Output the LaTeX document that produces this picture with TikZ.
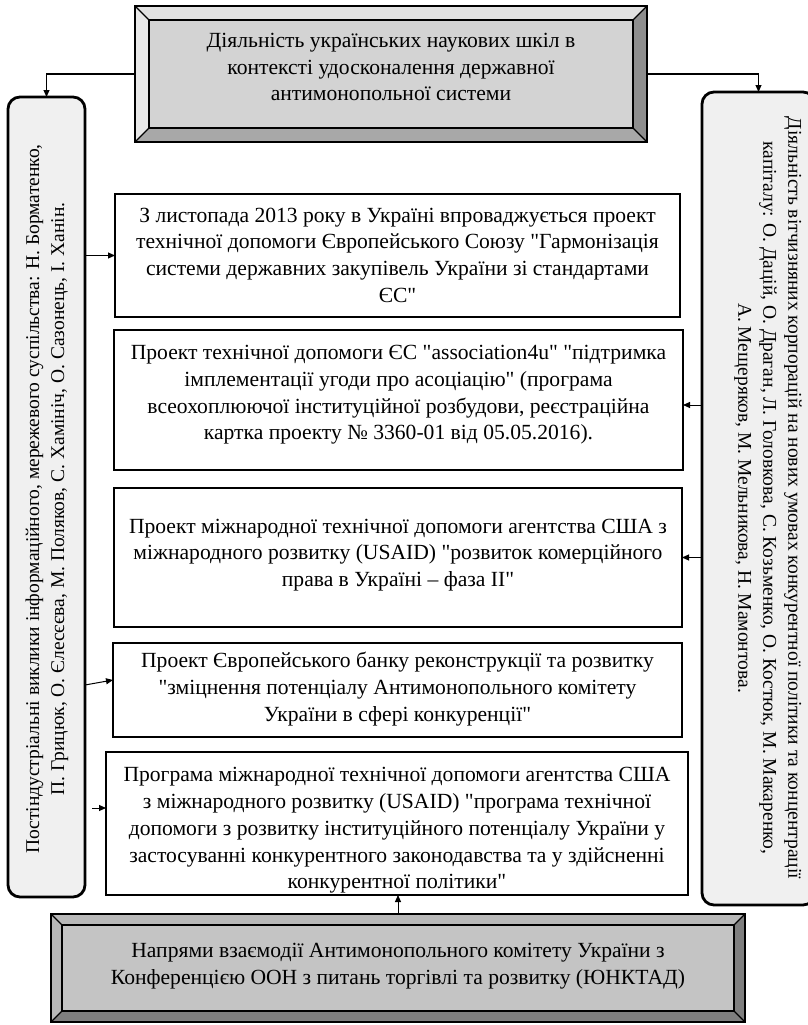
\documentclass[tikz,border=0pt]{standalone}
\usepackage{fontspec}
\setmainfont{Liberation Serif}[Ligatures=TeXOff]
\usetikzlibrary{calc,arrows.meta}
\newcommand{\dq}{\symbol{34}}
\newcommand{\bevelframe}[7]{%
  \path (#1.north west) coordinate (#1-A) (#1.north east) coordinate (#1-B)
        (#1.south east) coordinate (#1-C) (#1.south west) coordinate (#1-D);
  \path ($(#1-A)+(#2,#2)$) coordinate (#1-a) ($(#1-B)+(-#2,#2)$) coordinate (#1-b)
        ($(#1-C)+(-#2,-#2)$) coordinate (#1-c) ($(#1-D)+(#2,-#2)$) coordinate (#1-d);
  \fill[#3] (#1-A)--(#1-B)--(#1-b)--(#1-a)--cycle;
  \fill[#4] (#1-A)--(#1-a)--(#1-d)--(#1-D)--cycle;
  \fill[#5] (#1-B)--(#1-C)--(#1-c)--(#1-b)--cycle;
  \fill[#6] (#1-D)--(#1-C)--(#1-c)--(#1-d)--cycle;
  \fill[#7] (#1-a) rectangle (#1-c);
  \draw[line width=1.3pt] (#1-A)--(#1-a) (#1-B)--(#1-b) (#1-C)--(#1-c) (#1-D)--(#1-d);
  \draw[line width=2.8pt, line join=miter] (#1-A) rectangle (#1-C) (#1-a) rectangle (#1-c);
}
\definecolor{sidegray}{HTML}{F0F0F0}
\definecolor{tlight}{HTML}{E2E2E2}
\definecolor{tleft}{HTML}{E8E8E8}
\definecolor{tdark}{HTML}{8E8E8E}
\definecolor{tbottom}{HTML}{A8A8A8}
\definecolor{tface}{HTML}{D3D3D3}
\definecolor{blight}{HTML}{B8B8B8}
\definecolor{bdark}{HTML}{7F7F7F}
\definecolor{bface}{HTML}{C4C4C4}
\begin{document}
\begin{tikzpicture}[x=1pt,y=-1pt,
  placeholder/.style={inner sep=0pt, outer sep=0pt},
  midbox/.style={draw=black, line width=2.8pt, fill=white, inner sep=0pt, outer sep=0pt},
  sidebox/.style={draw=black, line width=2.8pt, fill=sidegray, rounded corners=12pt, inner sep=0pt, outer sep=0pt},
  boxtext/.style={inner sep=0pt, align=center, font=\fontsize{21.6}{26.7}\selectfont},
  sidetext/.style={inner sep=0pt, align=center, font=\fontsize{19.5}{25}\selectfont},
  conn/.style={line width=1pt, -{Triangle[length=7pt,width=6pt]}},
]
\useasboundingbox (0,0) rectangle (807,1025);

% side boxes
\node[sidebox, minimum width=77pt, minimum height=800pt] (L) at (46.5,497) {};
\node[sidebox, minimum width=113pt, minimum height=813pt] (R) at (758.5,498.5) {};
\node[sidetext, rotate=90] (Ltext) at (47,499)
  {Постіндустріальні виклики інформаційного, мережевого суспільства: Н. Борматенко,\\
   П. Грицюк, О. Єлесєєва, М. Поляков, С. Хамініч, О. Сазонець, І. Ханін.};
\node[sidetext, rotate=-90] (Rtext) at (768,498)
  {Діяльність вітчизняних корпорацій на нових умовах конкурентної політики та концентрації\\
   капіталу: О. Дацій, О. Драган, Л. Головкова, С. Козьменко, О. Костюк, М. Макаренко,\\
   А. Мещеряков, М. Мельникова, Н. Мамонтова.};

% top and bottom bevelled boxes
\node[placeholder, minimum width=512pt, minimum height=136pt] (T) at (391,74) {};
\bevelframe{T}{14}{tlight}{tleft}{tdark}{tbottom}{tface}
\node[boxtext] (Ttext) at (391,67)
  {Діяльність українських наукових шкіл в\\контексті удосконалення державної\\антимонопольної системи};

\node[placeholder, minimum width=694pt, minimum height=108pt] (B) at (398,968) {};
\bevelframe{B}{11}{blight}{blight}{bdark}{bdark}{bface}
\node[boxtext] (Btext) at (398,966)
  {Напрями взаємодії Антимонопольного комітету України з\\Конференцією ООН з питань торгівлі та розвитку (ЮНКТАД)};

% middle boxes
\node[midbox, minimum width=565pt, minimum height=123pt] (b1) at (397.5,255.5) {};
\node[midbox, minimum width=569pt, minimum height=140pt] (b2) at (398.5,400) {};
\node[midbox, minimum width=568pt, minimum height=139pt] (b3) at (398,557.5) {};
\node[midbox, minimum width=569pt, minimum height=94pt] (b4) at (397.5,690) {};
\node[midbox, minimum width=582pt, minimum height=143pt] (b5) at (397,823.5) {};

\node[boxtext] (t1) at (397.5,255)
  {З листопада 2013 року в Україні впроваджується проект\\технічної допомоги Європейського Союзу \dq Гармонізація\\системи державних закупівель України зі стандартами\\ЄС\dq};
\node[boxtext] (t2) at (398.5,395)
  {Проект технічної допомоги ЄС \dq association4u\dq{} \dq підтримка\\імплементації угоди про асоціацію\dq{} (програма\\всеохоплюючої інституційної розбудови, реєстраційна\\картка проекту № 3360-01 від 05.05.2016).};
\node[boxtext] (t3) at (398,555)
  {Проект міжнародної технічної допомоги агентства США з\\міжнародного розвитку (USAID) \dq розвиток комерційного\\права в Україні – фаза ІІ\dq};
\node[boxtext] (t4) at (397.5,689)
  {Проект Європейського банку реконструкції та розвитку\\\dq зміцнення потенціалу Антимонопольного комітету\\України в сфері конкуренції\dq};
\node[boxtext] (t5) at (397,830.5)
  {Програма міжнародної технічної допомоги агентства США\\з міжнародного розвитку (USAID) \dq програма технічної\\допомоги з розвитку інституційного потенціалу України у\\застосуванні конкурентного законодавства та у здійсненні\\конкурентної політики\dq};

% connectors
\draw[conn] (T.west) -| (L.north);
\draw[conn] (T.east) -| (R.north);
\draw[conn] (L.east |- b1.west) -- (b1.west);
\draw[conn] ($(L.east |- b4.west)+(0,-5)$) -- ($(b4.west)+(0,-10)$);
\coordinate (s5) at (92,808);
\draw[conn] (s5) -- (b5.west |- s5);
\draw[conn] ($(R.west |- b2.east)+(0,5)$) -- ($(b2.east)+(0,5)$);
\draw[conn] (R.west |- b3.east) -- (b3.east);
\draw[conn] (B.north) -- (B.north |- b5.south);
\end{tikzpicture}
\end{document}
